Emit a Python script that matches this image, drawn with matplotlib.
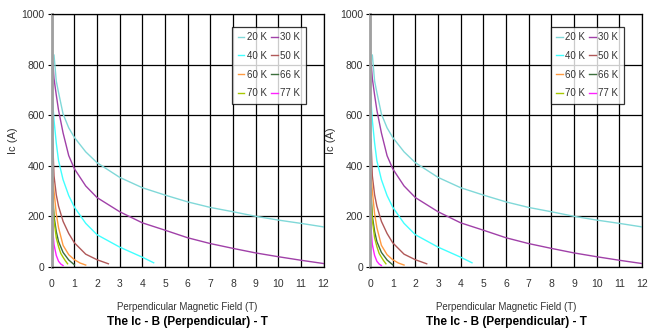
import matplotlib
matplotlib.use('Agg')
import matplotlib.pyplot as plt
from matplotlib import font_manager

names = set(f.name for f in font_manager.fontManager.ttflist)
narrow = [n for n in ['Liberation Sans Narrow', 'DejaVu Sans Condensed'] if n in names]
plt.rcParams['font.family'] = narrow + ['Liberation Sans', 'DejaVu Sans']

# Ic (A) vs perpendicular field B (T)
b_20 = [0.1, 0.2, 0.3, 0.5, 0.75, 1, 1.5, 2, 3, 4, 5, 6, 7, 8, 9, 10, 11, 12]
ic_20 = [838, 735, 690, 605, 550, 512, 455, 412, 354, 313, 284, 257, 235, 218, 200, 185, 172, 158]

b_30 = [0.05, 0.1, 0.2, 0.3, 0.5, 0.75, 1, 1.5, 2, 3, 4, 5, 6, 7, 8, 9, 10, 11, 12]
ic_30 = [805, 745, 680, 620, 530, 440, 388, 320, 274, 218, 174, 145, 115, 92, 73, 55, 40, 26, 13]

b_40 = [0.03, 0.1, 0.2, 0.3, 0.5, 0.75, 1, 1.5, 2, 3, 4, 4.5]
ic_40 = [670, 580, 490, 420, 345, 282, 236, 172, 127, 78, 38, 16]

b_50 = [0.04, 0.1, 0.2, 0.3, 0.5, 0.75, 1, 1.5, 2, 2.5]
ic_50 = [505, 360, 285, 240, 180, 132, 95, 50, 28, 12]

b_60 = [0.04, 0.1, 0.2, 0.3, 0.5, 0.75, 1, 1.25, 1.5]
ic_60 = [375, 300, 210, 155, 85, 48, 28, 15, 7]

b_66 = [0.03, 0.1, 0.2, 0.3, 0.5, 0.75, 1]
ic_66 = [310, 200, 140, 100, 57, 27, 8]

b_70 = [0.03, 0.1, 0.2, 0.3, 0.4, 0.5, 0.6, 0.7]
ic_70 = [290, 185, 115, 80, 53, 38, 24, 12]

b_77 = [0.03, 0.06, 0.1, 0.2, 0.3, 0.4, 0.5]
ic_77 = [190, 130, 88, 45, 22, 11, 5]

labels = ['20 K', '30 K', '40 K', '50 K', '60 K', '66 K', '70 K', '77 K']
colors = ['#80d8d8', '#a040a8', '#40ffff', '#b05858', '#ff9a40', '#3c6e3c', '#a8c800', '#ff20ff']
fields = [b_20, b_30, b_40, b_50, b_60, b_66, b_70, b_77]
currents = [ic_20, ic_30, ic_40, ic_50, ic_60, ic_66, ic_70, ic_77]

x_ticks = list(range(0, 13))
y_ticks = [0, 200, 400, 600, 800, 1000]


def draw_panel(ax):
    lines = []
    for b, ic, lab, col in zip(fields, currents, labels, colors):
        ln, = ax.plot(b, ic, color=col, lw=1.0, label=lab)
        lines.append(ln)

    ax.set_xlim(0, 12)
    ax.set_ylim(0, 1000)
    ax.set_xticks(x_ticks)
    ax.set_yticks(y_ticks)
    ax.grid(True, color='black', lw=0.9)
    ax.set_axisbelow(True)

    for side in ['top', 'right', 'bottom']:
        ax.spines[side].set_color('black')
        ax.spines[side].set_linewidth(0.9)
    ax.spines['left'].set_color('#a0a0a0')
    ax.spines['left'].set_linewidth(2)

    ax.tick_params(axis='x', length=0, pad=9, labelsize=7.5, colors='#333333')
    ax.tick_params(axis='y', length=3, pad=2, labelsize=7.5, colors='#333333')
    ax.tick_params(axis='y', color='black')

    ax.set_ylabel('Ic (A)', fontsize=8, color='#333333', labelpad=3)
    ax.set_xlabel('Perpendicular Magnetic Field (T)', fontsize=7, color='#333333', labelpad=9)
    ax.set_title('The Ic - B (Perpendicular) - T', fontsize=8.5, fontweight='bold',
                 y=-0.265, color='black')

    # legend is filled row by row in the original
    order = [0, 2, 4, 6, 1, 3, 5, 7]
    leg = ax.legend([lines[i] for i in order], [labels[i] for i in order],
                    ncol=2, loc='upper left', bbox_to_anchor=(0.664, 0.95),
                    fontsize=7, frameon=True, fancybox=False, handlelength=0.7,
                    handletextpad=0.25, columnspacing=0.4, labelspacing=0.9,
                    borderpad=0.55, borderaxespad=0)
    leg.get_frame().set_edgecolor('black')
    leg.get_frame().set_linewidth(0.9)
    for t in leg.get_texts():
        t.set_color('#333333')


fig = plt.figure(figsize=(6.55, 3.29), dpi=100)
ax1 = fig.add_axes([0.079, 0.189, 0.415, 0.768])
ax2 = fig.add_axes([0.565, 0.189, 0.415, 0.768])
draw_panel(ax1)
draw_panel(ax2)

fig.savefig('out.png', dpi=100)
